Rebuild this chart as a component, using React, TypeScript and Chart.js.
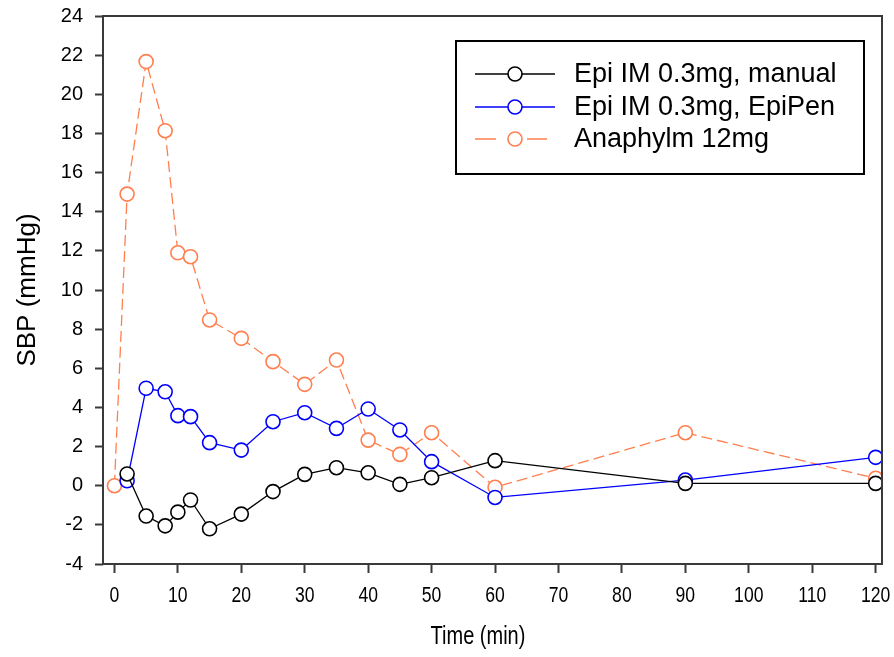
import React, { useEffect, useRef } from "react";
import { Chart, registerables } from "chart.js";

Chart.register(...registerables);

const times = [0, 2, 5, 8, 10, 12, 15, 20, 25, 30, 35, 40, 45, 50, 60, 90, 120];
const manual = [null, 0.6, -1.55, -2.05, -1.35, -0.73, -2.2, -1.45, -0.3, 0.58, 0.92, 0.66, 0.07, 0.41, 1.28, 0.12, 0.12];
const epipen = [null, 0.25, 4.98, 4.8, 3.58, 3.53, 2.2, 1.82, 3.27, 3.73, 2.93, 3.92, 2.85, 1.23, -0.6, 0.29, 1.45];
const anaphylm = [0, 14.9, 21.67, 18.14, 11.9, 11.7, 8.47, 7.53, 6.34, 5.18, 6.42, 2.33, 1.6, 2.71, -0.08, 2.71, 0.38];
const seriesLabels = ["Epi IM 0.3mg, manual", "Epi IM 0.3mg, EpiPen", "Anaphylm 12mg"];
const xTickValues = [0, 10, 20, 30, 40, 50, 60, 70, 80, 90, 100, 110, 120];
const yTickValues = [-4, -2, 0, 2, 4, 6, 8, 10, 12, 14, 16, 18, 20, 22, 24];
const xTitle = "Time (min)";
const yTitle = "SBP (mmHg)";

const SANS = "'Liberation Sans', Arial, sans-serif";
const FRAME = "#3a3a3a";
const COLORS = ["#000000", "#0000ff", "#ff7f4f"];
const DASH = [11, 5];
const NARROW_SCALE = 0.8;

const toPoints = (arr: (number | null)[]) => times.map((t, i) => ({ x: t, y: arr[i] }));

const decorPlugin = {
  id: "decor",
  afterDatasetsDraw(chart: any) {
    const { ctx, chartArea: a } = chart;
    ctx.save();
    ctx.strokeStyle = FRAME;
    ctx.lineWidth = 2;
    ctx.strokeRect(a.left, a.top, a.right - a.left, a.bottom - a.top);
    ctx.restore();
  },
  afterDraw(chart: any) {
    const { ctx } = chart;
    const xs = chart.scales.x;
    ctx.save();
    ctx.fillStyle = "#000";
    ctx.textAlign = "center";
    ctx.textBaseline = "middle";

    // x tick labels (condensed, like Arial Narrow)
    ctx.font = `22px ${SANS}`;
    xTickValues.forEach((v) => {
      const px = xs.getPixelForValue(v);
      ctx.save();
      ctx.translate(px, 596);
      ctx.scale(NARROW_SCALE, 1);
      ctx.fillText(String(v), 0, 0);
      ctx.restore();
    });

    // axis titles
    ctx.font = `26px ${SANS}`;
    ctx.save();
    ctx.translate(28, 290);
    ctx.rotate(-Math.PI / 2);
    ctx.fillText(yTitle, 0, 0);
    ctx.restore();
    ctx.font = `25px ${SANS}`;
    ctx.save();
    ctx.translate(478, 637);
    ctx.scale(NARROW_SCALE, 1);
    ctx.fillText(xTitle, 0, 0);
    ctx.restore();

    // legend
    const bx = 456, by = 41, bw = 408, bh = 133;
    ctx.fillStyle = "#fff";
    ctx.fillRect(bx, by, bw, bh);
    ctx.strokeStyle = "#000";
    ctx.lineWidth = 2;
    ctx.strokeRect(bx, by, bw, bh);
    const rows = [74, 107, 139];
    chart.data.datasets.forEach((ds: any, i: number) => {
      const y = rows[i];
      ctx.strokeStyle = ds.borderColor;
      ctx.lineWidth = 1.3;
      ctx.beginPath();
      if (ds.borderDash) {
        ctx.moveTo(475, y);
        ctx.lineTo(496, y);
        ctx.moveTo(527, y);
        ctx.lineTo(547, y);
      } else {
        ctx.moveTo(475, y);
        ctx.lineTo(555, y);
      }
      ctx.stroke();
      ctx.beginPath();
      ctx.arc(515, y, 7, 0, Math.PI * 2);
      ctx.fillStyle = "#fff";
      ctx.fill();
      ctx.lineWidth = 1.6;
      ctx.stroke();
      ctx.fillStyle = "#000";
      ctx.textAlign = "left";
      ctx.font = `27px ${SANS}`;
      ctx.fillText(ds.label, 574, y + 1);
    });
    ctx.restore();
  },
};

export default function App() {
  const ref = useRef<HTMLCanvasElement>(null);
  useEffect(() => {
    if (!ref.current) return;
    const mk = (i: number, arr: (number | null)[], dash?: number[]) => ({
      label: seriesLabels[i],
      data: toPoints(arr),
      borderColor: COLORS[i],
      borderWidth: 1.3,
      borderDash: dash,
      pointRadius: 7,
      pointHoverRadius: 7,
      pointBorderWidth: 1.6,
      pointBorderColor: COLORS[i],
      pointBackgroundColor: "#ffffff",
      tension: 0,
      fill: false,
    });
    const chart = new Chart(ref.current, {
      type: "line",
      data: {
        datasets: [mk(0, manual), mk(1, epipen), mk(2, anaphylm, DASH)],
      },
      options: {
        animation: false,
        responsive: false,
        events: [],
        layout: { padding: { top: 16, right: 12, left: 0, bottom: 0 } },
        plugins: { legend: { display: false }, tooltip: { enabled: false } },
        scales: {
          x: {
            type: "linear",
            min: -1.8,
            max: 121,
            afterBuildTicks: (s: any) => {
              s.ticks = xTickValues.map((v) => ({ value: v }));
            },
            afterFit: (s: any) => {
              s.height = 93;
              s.paddingLeft = 0;
              s.paddingRight = 0;
            },
            grid: { drawOnChartArea: false, drawTicks: true, tickLength: 9, tickWidth: 2, tickColor: FRAME },
            border: { display: false },
            ticks: { display: false, autoSkip: false },
          },
          y: {
            type: "linear",
            min: -4,
            max: 24,
            afterBuildTicks: (s: any) => {
              s.ticks = yTickValues.map((v) => ({ value: v }));
            },
            afterFit: (s: any) => {
              s.width = 103;
              s.paddingTop = 0;
              s.paddingBottom = 0;
            },
            grid: { drawOnChartArea: false, drawTicks: true, tickLength: 8, tickWidth: 2, tickColor: FRAME },
            border: { display: false },
            ticks: { color: "#000", padding: 12, font: { family: SANS, size: 20 }, autoSkip: false },
          },
        },
      },
      plugins: [decorPlugin],
    });
    return () => chart.destroy();
  }, []);
  return (
    <div style={{ position: "fixed", left: 0, top: 0, width: 894, height: 657, background: "#fff" }}>
      <canvas ref={ref} width={894} height={657} style={{ display: "block" }} />
    </div>
  );
}
